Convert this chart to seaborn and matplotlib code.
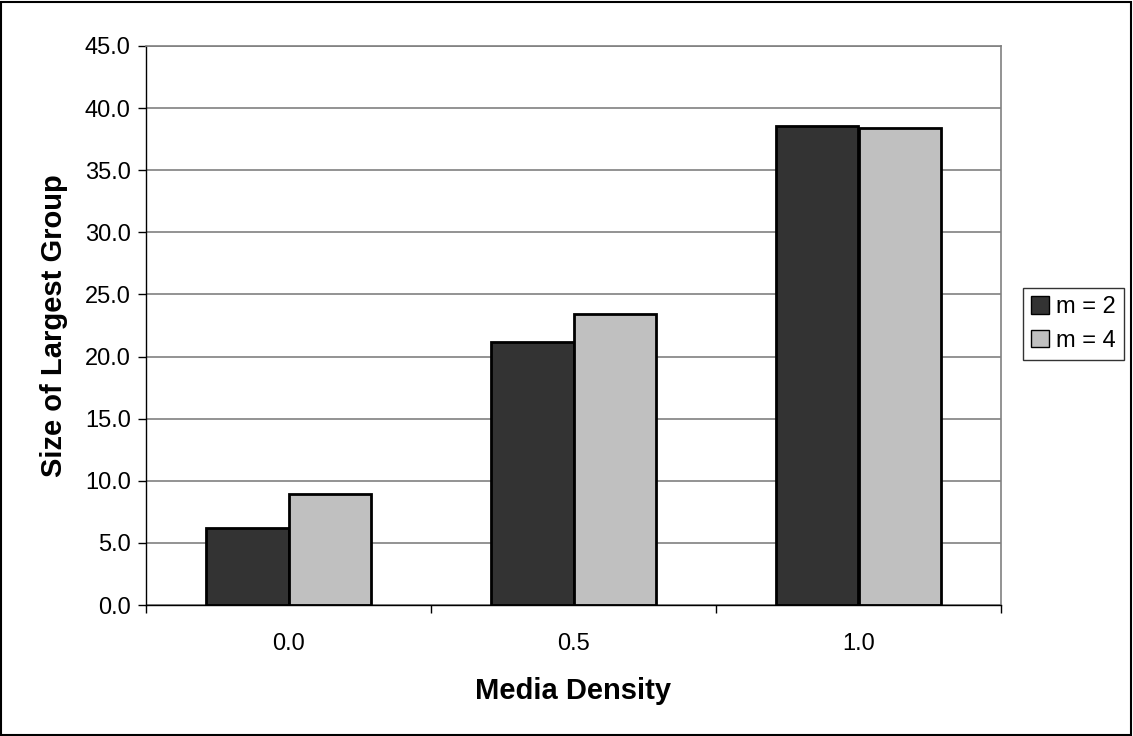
import matplotlib
matplotlib.use("Agg")
import matplotlib.pyplot as plt
from matplotlib.patches import Rectangle
from matplotlib.ticker import FormatStrFormatter, FixedLocator
import seaborn as sns
import pandas as pd

categories = ["0.0", "0.5", "1.0"]
series_names = ["m = 2", "m = 4"]
m2_values = [6.2, 21.2, 38.6]
m4_values = [8.9, 23.4, 38.4]

df = pd.DataFrame({
    "Media Density": categories * 2,
    "value": m2_values + m4_values,
    "series": [series_names[0]] * 3 + [series_names[1]] * 3,
})

sns.set_theme(style="white")
plt.rcParams['font.family'] = ['Liberation Sans', 'DejaVu Sans']
plt.rcParams['text.color'] = 'black'
plt.rcParams['axes.labelcolor'] = 'black'
plt.rcParams['xtick.color'] = 'black'
plt.rcParams['ytick.color'] = 'black'

fig = plt.figure(figsize=(11.33, 7.36), dpi=100)
ax = fig.add_axes([146/1133, 1-605/736, (1001-146)/1133, (605-46)/736])

sns.barplot(data=df, x="Media Density", y="value", hue="series",
            palette=["#333333", "#c0c0c0"], edgecolor="black", linewidth=2,
            width=0.58, gap=0, ax=ax, order=categories, hue_order=series_names)

ax.set_ylim(0, 45)
ax.set_xlim(-0.5, 2.5)
ax.set_yticks([0, 5, 10, 15, 20, 25, 30, 35, 40, 45])
ax.yaxis.set_major_formatter(FormatStrFormatter("%.1f"))
ax.yaxis.grid(True, color="#808080", linewidth=1.2)
ax.set_axisbelow(True)

ax.xaxis.set_minor_locator(FixedLocator([-0.5, 0.5, 1.5, 2.5]))
ax.tick_params(axis="x", which="major", length=0, pad=20, labelsize=17)
ax.tick_params(axis="x", which="minor", length=6, width=1, color="black", direction="out", bottom=True)
ax.tick_params(axis="y", which="major", length=6, width=1, color="black", direction="out", left=True, labelsize=17, pad=5)

for side in ["top", "right"]:
    ax.spines[side].set_visible(True)
    ax.spines[side].set_color("#808080")
    ax.spines[side].set_linewidth(1.2)
for side in ["left", "bottom"]:
    ax.spines[side].set_color("black")
    ax.spines[side].set_linewidth(1)

ax.set_xlabel("Media Density", fontsize=21, fontweight="bold", labelpad=16)
ax.set_ylabel("Size of Largest Group", fontsize=21, fontweight="bold", labelpad=12)

leg = ax.legend(loc="center left", bbox_to_anchor=(1023/1133, 1 - 324/736),
                bbox_transform=fig.transFigure, frameon=True, fontsize=17,
                handlelength=0.75, handleheight=0.75, handletextpad=0.3,
                borderpad=0.35, labelspacing=0.5, fancybox=False, title=None,
                borderaxespad=0)
leg.get_frame().set_edgecolor("black")
leg.get_frame().set_linewidth(1)
for h in leg.legend_handles:
    h.set_linewidth(1)

fig.add_artist(Rectangle((1/1133, 1/736), 1 - 3/1133, 1 - 3/736, transform=fig.transFigure,
                         fill=False, edgecolor="black", linewidth=1.5))

fig.savefig("out.png", dpi=100)
